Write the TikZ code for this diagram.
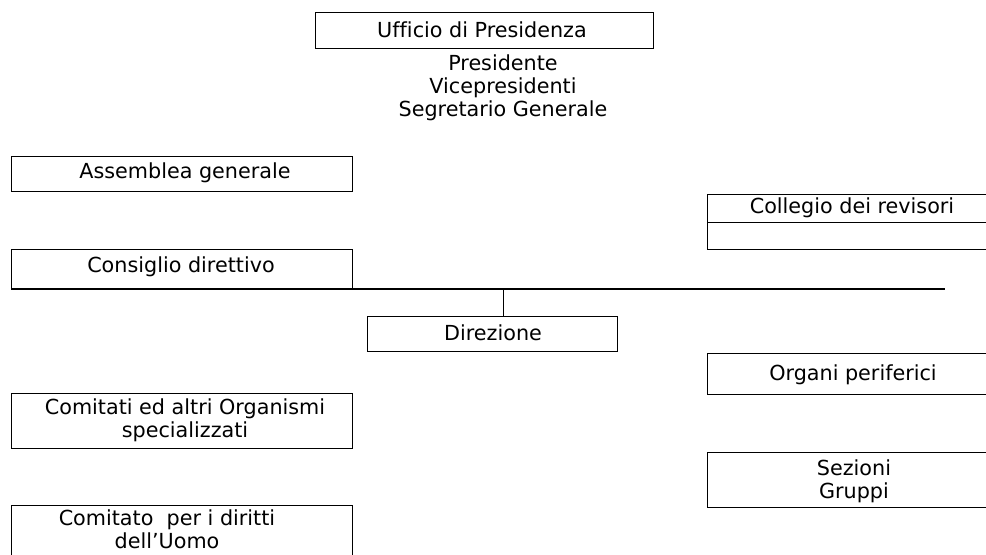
\documentclass[tikz,border=0pt]{standalone}
\usepackage{fontspec}
\setmainfont[Ligatures={NoCommon}]{DejaVu Sans}
\begin{document}
\begin{tikzpicture}[x=1bp,y=-1bp,
  txt/.style={inner sep=0pt, align=center, font=\fontsize{20.8}{22.8}\selectfont},
  box/.style={txt, draw, line width=0.7pt},
  edge/.style={line width=0.7pt},
  mainline/.style={line width=1.4pt}]
\useasboundingbox (0,0) rectangle (986,555);
% top
\node[box, minimum width=338bp, minimum height=36bp] (uff) at (484,30) {};
\node[txt] (ufft) at (482,30) {Ufficio di Presidenza};
\node[txt] (pres) at (503,88) {Presidente\\Vicepresidenti\\Segretario Generale};
% left column
\node[box, minimum width=341bp, minimum height=35bp] (ass) at (181.5,173.5) {};
\node[txt] (asst) at (185,173) {Assemblea generale};
\node[box, minimum width=341bp, minimum height=39bp] (cons) at (181.5,268.5) {};
\node[txt] (const) at (181,267) {Consiglio direttivo};
\node[box, minimum width=341bp, minimum height=55bp] (comi) at (181.5,420.5) {};
\node[txt] (comit) at (185,420) {Comitati ed altri Organismi\\specializzati};
\coordinate (cdl) at (11,560);
\coordinate (cdr) at (352,560);
\draw[edge] (cdl) -- (11,505) -- (352,505) -- (cdr);
\node[txt] (cdu) at (167,529) {Comitato\ \ per i diritti\\dell'Uomo};
% main line
\coordinate (ml) at (11,289);
\coordinate (mr) at (945,289);
\draw[mainline] (ml) -- (mr);
\coordinate (junc) at (503,289);
\node[box, minimum width=250bp, minimum height=35bp] (dir) at (492,333.5) {};
\node[txt] (dirt) at (493,333) {Direzione};
\draw[edge] (junc) -- (junc |- dir.north);
% right column (open on the right)
\draw[edge] (990,194) -- (707,194) -- (707,249) -- (990,249);
\draw[edge] (707,222) -- (990,222);
\node[txt] (coll) at (852,208) {Collegio dei revisori};
\draw[edge] (990,353) -- (707,353) -- (707,394) -- (990,394);
\node[txt] (org) at (853,375) {Organi periferici};
\draw[edge] (990,452) -- (707,452) -- (707,507) -- (990,507);
\node[txt] (sez) at (854,481) {Sezioni\\Gruppi};
\end{tikzpicture}
\end{document}
